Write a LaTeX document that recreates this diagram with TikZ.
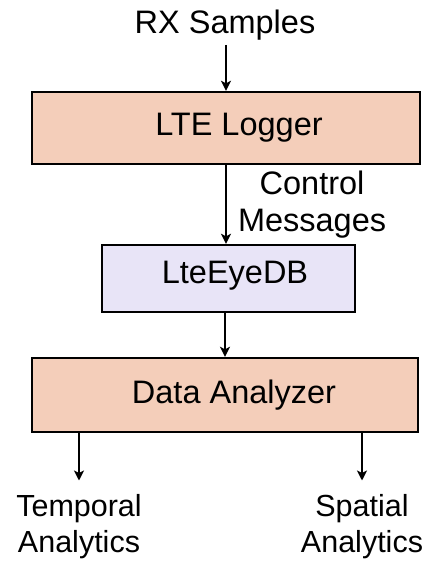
\documentclass[tikz,border=0pt]{standalone}
\usepackage{fontspec}
\setmainfont{Liberation Sans}
\usepackage{tikz}
\usetikzlibrary{arrows.meta}
\definecolor{peach}{RGB}{244,206,186}
\definecolor{lavender}{RGB}{232,228,247}

\begin{document}
\begin{tikzpicture}[x=1pt, y=-1pt,
		box/.style={draw, line width=2.4pt, rectangle, inner sep=0pt},
		txt/.style={inner sep=0pt, align=center},
		big/.style={font=\fontsize{32.5}{37}\selectfont},
		small/.style={font=\fontsize{30.5}{36}\selectfont},
		arr/.style={->, >={Stealth[length=10pt, width=10pt, inset=2.5pt]}, line width=2pt}]
				\useasboundingbox (0, 0) rectangle (427, 563);
				\node[txt, big, anchor=base] (RX)at(225, 33) {RX Samples};
				\node[box, fill=peach, minimum width=388pt, minimum height=72pt, label={[big, xshift=13pt]center:LTE Logger}] (LOG)at(226, 128) {};
				\node[box, fill=lavender, minimum width=253pt, minimum height=67pt, label={[big, xshift=6.5pt, yshift=3pt]center:LteEyeDB}] (DB)at(228.5, 278.5) {};
				\node[box, fill=peach, minimum width=386pt, minimum height=74pt, label={[big, xshift=9pt]center:Data Analyzer}] (DA)at(225, 395) {};
				\node[txt, small, anchor=north] (TA)at(79, 494.5) {Temporal\\Analytics};
				\node[txt, small, anchor=north] (SA)at(362, 494.5) {Spatial\\Analytics};
				\draw[arr, shorten <=5pt] (LOG.north |- RX.south) -- (LOG.north);
				\draw[arr] (LOG.south) -- node[txt, big, right, xshift=11pt] {Control\\Messages} (DB.north -| LOG.south);
				\draw[arr] (DB.south -| DA.north) -- (DA.north);
				\draw[arr, shorten >=14pt] (DA.south -| TA.north) -- (TA.north);
				\draw[arr, shorten >=14pt] (DA.south -| SA.north) -- (SA.north);
			\end{tikzpicture}
\end{document}
